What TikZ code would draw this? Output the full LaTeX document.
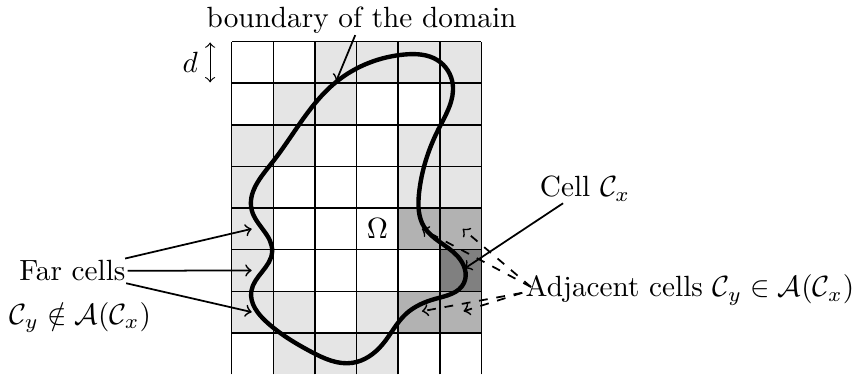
\documentclass[tikz,border=0pt]{standalone}
\usepackage{amssymb}
\usetikzlibrary{hobby}
\begin{document}
\begin{tikzpicture}[x=0.5cm,y=0.5cm,
  lightc/.style={fill=black!10},
  midc/.style={fill=black!30},
  darkc/.style={fill=black!50},
  gridline/.style={line width=0.5pt},
  boundary/.style={line width=1.5pt},
  lbl/.style={inner sep=0.5pt},
  conn/.style={semithick,->},
  dconn/.style={semithick,->,dashed}]
\useasboundingbox (-5.57,0.01) rectangle (14.93,9.0);
% shaded cells
\foreach \i/\j in {2/7,3/7,4/7,5/7, 1/6,2/6,5/6, 0/5,1/5,4/5,5/5, 0/4,4/4,5/4, 0/3, 0/2, 0/1,1/1,3/1, 1/0,2/0,3/0}
  \fill[lightc] (\i,\j) rectangle ++(1,1);
\foreach \i/\j in {4/3,5/3,4/1,5/1}
  \fill[midc] (\i,\j) rectangle ++(1,1);
\fill[darkc] (5,2) rectangle ++(1,1);
% grid
\foreach \i in {0,...,6} \draw[gridline] (\i,0) -- (\i,8);
\foreach \j in {1,...,8} \draw[gridline] (0,\j) -- (6,\j);
% boundary curve
\draw[boundary, use Hobby shortcut, closed=true]
 (4.15,7.69) .. (4.95,7.55) .. (5.31,6.98) .. (4.97,5.9) .. (4.50,4.35) .. (4.62,3.55)
 .. (5.42,2.85) .. (5.58,2.2) .. (4.9,1.82) .. (4.18,1.45) .. (3.62,0.72)
 .. (2.9,0.28) .. (1.9,0.55) .. (0.85,1.25) .. (0.47,2.0) .. (0.97,2.95)
 .. (0.48,3.95) .. (0.96,5.08) .. (2.52,7.04);
% labels
\node[lbl,anchor=base] (bnd) at (3.12,8.35) {boundary of the domain};
\coordinate (bndpt) at (2.51,7.05);
\draw[conn] (bnd) -- (bndpt);
\node[lbl] (d) at (-1.0,7.49) {$d$};
\coordinate (dtop) at (-0.52,7.98);
\coordinate (dbot) at (-0.52,7.02);
\draw[<->] (dtop) -- (dbot);
\node[lbl] (omega) at (3.5,3.5) {$\Omega$};
\node[lbl,anchor=base] (far) at (-3.83,2.25) {Far cells};
\node[lbl,anchor=base] (farmath) at (-3.64,1.2) {$\mathcal{C}_y\notin\mathcal{A}(\mathcal{C}_x)$};
\coordinate (f1) at (0.48,3.5);
\coordinate (f2) at (0.48,2.5);
\coordinate (f3) at (0.48,1.5);
\draw[conn] (far) -- (f1);
\draw[conn] (far) -- (f2);
\draw[conn] (far) -- (f3);
\node[lbl,anchor=base] (cell) at (8.49,4.27) {Cell $\mathcal{C}_x$};
\coordinate (cx) at (5.6,2.55);
\draw[conn] (cell) -- (cx);
\node[inner sep=0pt,anchor=base west] (adj) at (7.05,1.87) {Adjacent cells $\mathcal{C}_y\in\mathcal{A}(\mathcal{C}_x)$};
\coordinate (a1) at (4.57,3.5);
\coordinate (a2) at (5.55,3.5);
\coordinate (a3) at (4.57,1.52);
\coordinate (a4) at (5.57,1.52);
\draw[dconn] ([xshift=2pt,yshift=1pt]adj.west) -- (a1);
\draw[dconn] ([xshift=2pt,yshift=1pt]adj.west) -- (a2);
\draw[dconn] ([xshift=-1pt,yshift=-1pt]adj.west) -- (a3);
\draw[dconn] ([xshift=-1pt,yshift=-1pt]adj.west) -- (a4);
\end{tikzpicture}
\end{document}
